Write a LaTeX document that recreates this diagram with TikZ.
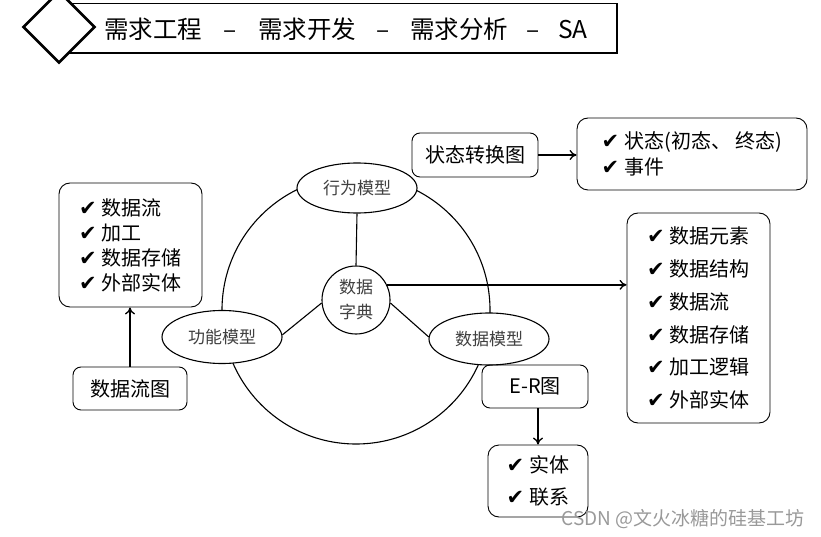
\documentclass[tikz,border=0pt]{standalone}
\usepackage{fontspec}
\setmainfont{Noto Sans CJK SC}
\newfontfamily\dejavu{DejaVu Sans}
\usetikzlibrary{shapes.geometric,arrows.meta}
\newcommand{\chk}{{\dejavu\fontsize{21}{21}\selectfont ✔}\hspace{5pt}}
\begin{document}
\begin{tikzpicture}[x=1pt,y=-1pt,
  box/.style={draw,rounded corners=8pt,line width=0.9pt,inner sep=0pt},
  listbox/.style={box,rounded corners=11pt,align=left},
  ell/.style={draw,ellipse,fill=white,line width=1.1pt,inner sep=0pt,text=black!75,font=\fontsize{17}{25}\selectfont},
  arr/.style={-{To[length=7pt,width=10pt]},line width=1.3pt},
  link/.style={line width=1.1pt}]
\useasboundingbox (0,0) rectangle (821,537);
\clip (0,0) rectangle (821,537);
% title
\draw[line width=0.8pt] (60,3) rectangle (617,53);
\draw[line width=1.6pt] (60,53) -- (617,53) -- (617,3);
\node[diamond,draw,fill=white,line width=2.6pt,minimum width=72,minimum height=72,inner sep=0pt] (dia) at (59,27) {};
\node[anchor=west,inner sep=0pt,font=\fontsize{24.5}{28}\selectfont] (title) at (104,29)
  {需求工程\makebox[56pt]{–}需求开发\makebox[54pt]{–}需求分析\makebox[50pt]{–}SA};
% big circle
\node[circle,draw,line width=1.1pt,minimum size=268,inner sep=0pt] (big) at (356,310) {};
\node[ell,minimum width=120,minimum height=50] (B) at (357,188) {行为模型};
\node[ell,minimum width=120,minimum height=53] (G) at (222,337) {功能模型};
\node[ell,minimum width=120,minimum height=52] (M) at (489,339) {数据模型};
\node[ell,circle,minimum size=68,align=center] (D) at (356,300) {数据\\字典};
% boxes
\node[box,minimum width=126,minimum height=44,font=\fontsize{20}{24}\selectfont] (S) at (475,155) {状态转换图};
\node[listbox,minimum width=230,minimum height=72,font=\fontsize{20}{26}\selectfont] (SL) at (692,154)
  {\chk 状态(初态、\ 终态)\\\chk 事件};
\node[listbox,minimum width=143,minimum height=124,font=\fontsize{20}{25}\selectfont] (L) at (130.5,245)
  {\chk 数据流\\\chk 加工\\\chk 数据存储\\\chk 外部实体};
\node[box,minimum width=114,minimum height=43,font=\fontsize{20}{24}\selectfont] (DF) at (130,388.5) {数据流图};
\node[listbox,minimum width=143,minimum height=210,font=\fontsize{20}{32.8}\selectfont] (R) at (698.5,318)
  {\chk 数据元素\\\chk 数据结构\\\chk 数据流\\\chk 数据存储\\\chk 加工逻辑\\\chk 外部实体};
\node[box,minimum width=106,minimum height=43,font=\fontsize{20}{24}\selectfont] (ER) at (535,386.5) {E-R图};
\node[listbox,minimum width=100,minimum height=72,font=\fontsize{20}{32}\selectfont] (EL) at (538,481)
  {\chk 实体\\\chk 联系};
% connectors
\draw[link] (B.south) -- (D.north);
\draw[link] (G.2) -- (D.185);
\draw[link] (D.355) -- (M.178);
\draw[arr] (D.26) -- (D.26 -| R.west);
\draw[arr] (S.east) -- (S.east -| SL.west);
\draw[arr] (DF.north) -- (DF.north |- L.south);
\draw[arr] (EL.north |- ER.south) -- (EL.north);
% watermark
\node[anchor=east,inner sep=0pt,text=black!40,font=\fontsize{19}{20}\selectfont] (wm) at (805,519) {CSDN @文火冰糖的硅基工坊};
\end{tikzpicture}
\end{document}
